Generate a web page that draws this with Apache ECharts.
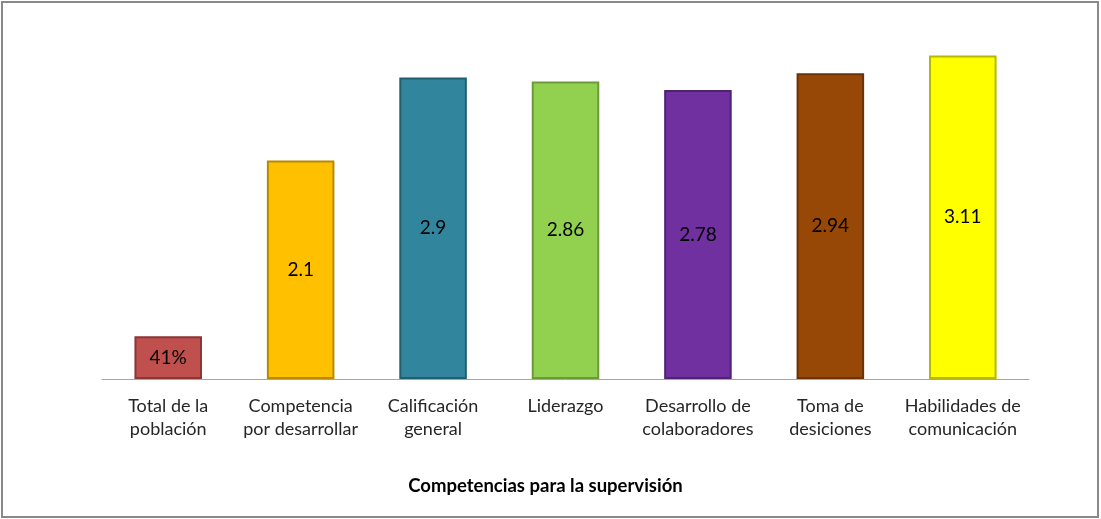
<!DOCTYPE html>
<html>
<head>
<meta charset="utf-8">
<script src="https://cdn.jsdelivr.net/npm/echarts@6/dist/echarts.min.js"></script>
<style>
html,body{margin:0;padding:0;background:#fff;}
#c{position:absolute;left:0;top:0;width:1101px;height:519px;}
</style>
</head>
<body>
<div id="c"></div>
<script>
const categories = ["Total de la\npoblación", "Competencia\npor desarrollar", "Calificación\ngeneral", "Liderazgo", "Desarrollo de\ncolaboradores", "Toma de\ndesiciones", "Habilidades de\ncomunicación"];
const values = [0.41, 2.1, 2.9, 2.86, 2.78, 2.94, 3.11];
const valueLabels = ["41%", "2.1", "2.9", "2.86", "2.78", "2.94", "3.11"];
const colors = ["#C0504D", "#FFC000", "#31859C", "#92D050", "#7030A0", "#974706", "#FFFF00"];
const borders = ["#8a3634", "#b88a00", "#215f70", "#6a9a3a", "#4f2272", "#6b3204", "#b8b800"];
const axisTitle = "Competencias para la supervisión";

const font = "Lato, 'Open Sans', sans-serif";
const chart = echarts.init(document.getElementById('c'));
chart.setOption({
  animation: false,
  backgroundColor: '#fff',
  graphic: [{
    type: 'rect', shape: {x: 2, y: 2, width: 1096, height: 515},
    style: {fill: 'none', stroke: '#898989', lineWidth: 2}, z: 100
  }],
  grid: {left: 102, right: 72, top: 15, bottom: 140},
  xAxis: {
    type: 'category',
    data: categories,
    axisLine: {lineStyle: {color: '#a6a6a6', width: 1}},
    axisTick: {show: false},
    axisLabel: {interval: 0, fontSize: 18, lineHeight: 23, margin: 16, color: '#262626', fontFamily: font},
    name: axisTitle,
    nameLocation: 'middle',
    nameGap: 98,
    nameTextStyle: {fontSize: 18.5, fontWeight: 'bold', color: '#000', fontFamily: font, padding: [0, 40, 0, 0]}
  },
  yAxis: {
    type: 'value', min: 0, max: 3.5, show: false,
    splitLine: {show: false}
  },
  series: [{
    type: 'bar',
    barWidth: '51%',
    data: values.map((v, i) => ({
      value: v,
      itemStyle: {color: colors[i], borderColor: borders[i], borderWidth: 2}
    })),
    label: {
      show: true, position: 'inside', fontSize: 19, color: '#000', fontFamily: font,
      formatter: p => valueLabels[p.dataIndex]
    }
  }]
});
</script>
</body>
</html>
